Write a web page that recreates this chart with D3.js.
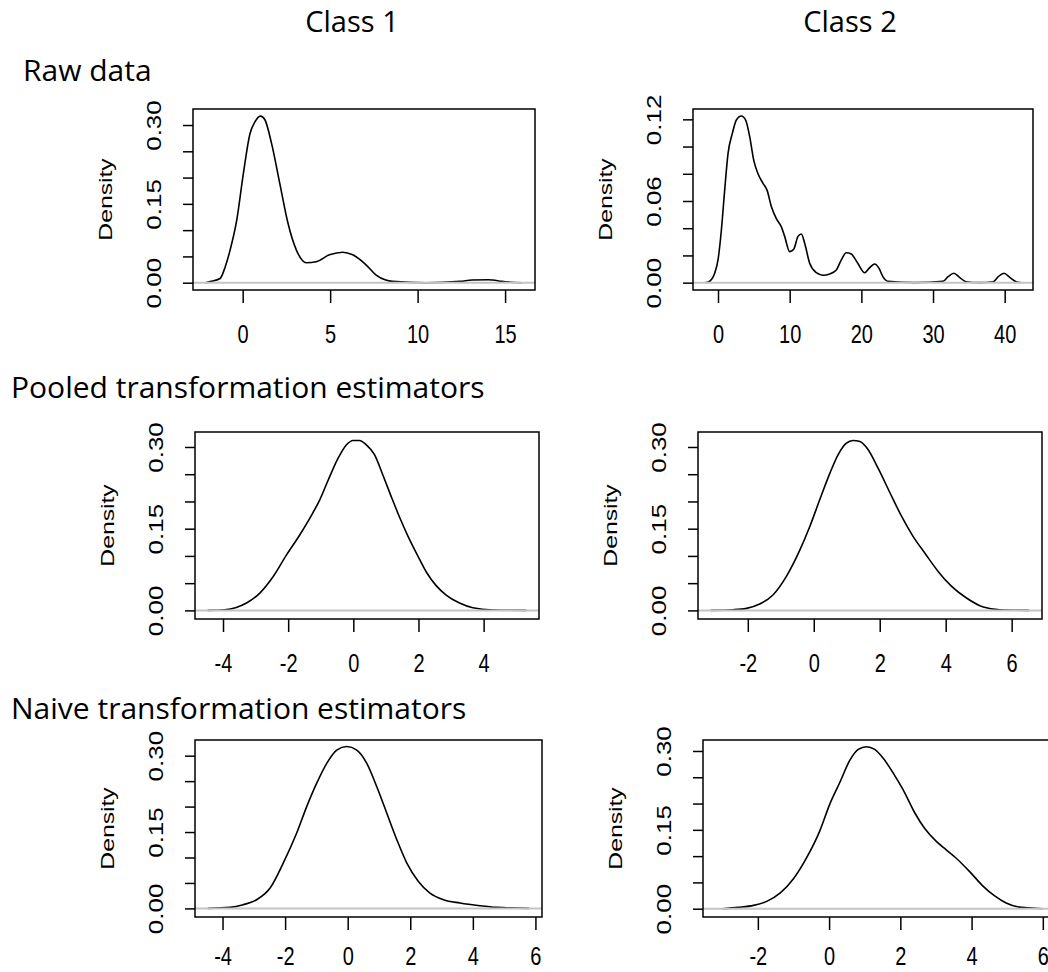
<!DOCTYPE html>
<html>
<head>
<meta charset="utf-8">
<script src="https://cdn.jsdelivr.net/npm/d3@7"></script>
<style>
  body { margin: 0; background: #fff; overflow: hidden; }
  svg { display: block; }
</style>
</head>
<body>
<div id="main"></div>
<script>
// Curvas de densidad: [x, densidad]
var rawClass1 = [
  [-2.12, 0], [-1.86, 0.002], [-1.29, 0.008], [-1.0, 0.03], [-0.72, 0.062], [-0.34, 0.119],
  [0.04, 0.208], [0.42, 0.284], [0.70, 0.306], [1.02, 0.317], [1.27, 0.310], [1.65, 0.265],
  [2.12, 0.189], [2.59, 0.113], [3.07, 0.062], [3.64, 0.038], [4.2, 0.040], [4.96, 0.053],
  [5.72, 0.058], [6.29, 0.053], [7.05, 0.034], [7.61, 0.015], [8.18, 0.005], [8.56, 0.0025],
  [10.5, 0], [12.44, 0.0025], [13.1, 0.005], [14.05, 0.0057], [14.3, 0.005], [14.8, 0.0025],
  [15.97, 0]
];
var rawClass2 = [
  [-1.73, 0], [-1.26, 0.0007], [-0.47, 0.0069], [0, 0.0167], [0.47, 0.0387], [0.93, 0.068],
  [1.4, 0.095], [2.0, 0.1097], [2.56, 0.1195], [3.26, 0.1225], [3.86, 0.1195], [4.42, 0.1073],
  [4.98, 0.090], [5.58, 0.080], [6.28, 0.073], [6.84, 0.068], [7.44, 0.056], [8.14, 0.047],
  [8.84, 0.041], [9.3, 0.034], [10.0, 0.0228], [10.56, 0.0245], [11.16, 0.034], [11.63, 0.0358],
  [12.09, 0.029], [12.79, 0.0142], [13.72, 0.0073], [14.65, 0.0054], [15.58, 0.0064], [16.5, 0.0093],
  [17.2, 0.0167], [17.9, 0.022], [18.6, 0.021], [19.5, 0.0142], [20.47, 0.0073], [21.07, 0.0105],
  [21.86, 0.0137], [22.47, 0.0105], [23.0, 0.0044], [23.7, 0.001], [27.5, 0], [31.4, 0.001],
  [32.1, 0.0044], [32.9, 0.0069], [33.7, 0.0039], [34.6, 0.0007], [36.5, 0], [38.4, 0.0007],
  [39.1, 0.0044], [39.9, 0.0069], [40.7, 0.0039], [41.6, 0.0007], [42.2, 0]
];
var pooledClass1 = [
  [-4.47, 0], [-3.95, 0.0012], [-3.59, 0.0055], [-3.28, 0.0135], [-2.87, 0.0318], [-2.47, 0.0612],
  [-2.06, 0.101], [-1.65, 0.138], [-1.29, 0.174], [-1.03, 0.203], [-0.78, 0.238], [-0.47, 0.279],
  [-0.21, 0.304], [-0.01, 0.312], [0.19, 0.312], [0.40, 0.304], [0.65, 0.286], [0.91, 0.248],
  [1.17, 0.208], [1.42, 0.171], [1.68, 0.136], [1.98, 0.100], [2.24, 0.0705], [2.55, 0.045],
  [2.85, 0.028], [3.26, 0.0135], [3.67, 0.0048], [4.29, 0.0008], [5.31, 0]
];
var pooledClass2 = [
  [-3.12, 0], [-2.45, 0.0012], [-2.04, 0.0037], [-1.64, 0.0116], [-1.23, 0.0288], [-0.83, 0.0625],
  [-0.42, 0.111], [-0.12, 0.154], [0.18, 0.203], [0.49, 0.252], [0.74, 0.286], [0.99, 0.307],
  [1.19, 0.312], [1.40, 0.310], [1.65, 0.295], [1.95, 0.261], [2.31, 0.216], [2.66, 0.173],
  [3.01, 0.136], [3.37, 0.105], [3.77, 0.0716], [4.18, 0.044], [4.63, 0.0227], [5.14, 0.0061],
  [5.64, 0.0012], [6.53, 0]
];
var naiveClass1 = [
  [-4.47, 0], [-3.76, 0.002], [-3.34, 0.0072], [-2.91, 0.017], [-2.48, 0.040], [-2.06, 0.089],
  [-1.63, 0.148], [-1.31, 0.200], [-0.99, 0.246], [-0.67, 0.285], [-0.35, 0.311], [-0.03, 0.318],
  [0.29, 0.311], [0.61, 0.285], [0.93, 0.239], [1.25, 0.187], [1.57, 0.135], [1.89, 0.089],
  [2.26, 0.053], [2.63, 0.030], [3.06, 0.017], [3.59, 0.0105], [4.23, 0.0052], [4.77, 0.002],
  [5.80, 0]
];
var naiveClass2 = [
  [-3.0, 0], [-2.54, 0.0025], [-2.12, 0.0063], [-1.75, 0.0139], [-1.37, 0.030], [-1.0, 0.057],
  [-0.63, 0.097], [-0.26, 0.148], [0.02, 0.199], [0.30, 0.240], [0.58, 0.282], [0.82, 0.303],
  [1.05, 0.308], [1.28, 0.303], [1.52, 0.286], [1.80, 0.258], [2.08, 0.226], [2.40, 0.183],
  [2.68, 0.153], [3.01, 0.128], [3.29, 0.112], [3.57, 0.096], [3.94, 0.071], [4.32, 0.043],
  [4.64, 0.0247], [4.97, 0.0108], [5.34, 0.003], [5.58, 0.0019], [6.0, 0]
];

// Marcas de los ejes
var densityTicks = [0, 0.05, 0.10, 0.15, 0.20, 0.25, 0.30];
var densityLabels = [0, 0.15, 0.30];
var rawClass2DensityTicks = [0, 0.02, 0.04, 0.06, 0.08, 0.10, 0.12];
var rawClass2DensityLabels = [0, 0.06, 0.12];
var rawClass1XTicks = [0, 5, 10, 15];
var rawClass2XTicks = [0, 10, 20, 30, 40];
var pooledClass1XTicks = [-4, -2, 0, 2, 4];
var pooledClass2XTicks = [-2, 0, 2, 4, 6];
var naiveClass1XTicks = [-4, -2, 0, 2, 4, 6];
var naiveClass2XTicks = [-2, 0, 2, 4, 6];

// Límites de los ejes (como en R, rango + 4%)
var rawClass1XLim = [-2.84, 16.71], rawClass1YLim = [-0.0139, 0.3305];
var rawClass2XLim = [-3.49, 43.95], rawClass2YLim = [-0.0054, 0.1276];
var pooledClass1XLim = [-4.86, 5.70], pooledClass1YLim = [-0.0158, 0.3275];
var pooledClass2XLim = [-3.51, 6.92], pooledClass2YLim = [-0.0158, 0.3275];
var naiveClass1XLim = [-4.88, 6.21], naiveClass1YLim = [-0.0169, 0.3308];
var naiveClass2XLim = [-3.54, 6.37], naiveClass2YLim = [-0.0158, 0.3209];

var columnTitles = ["Class 1", "Class 2"];
var rowTitles = ["Raw data", "Pooled transformation estimators", "Naive transformation estimators"];

var totalWidth = 1048;
var totalHeight = 972;
var stretch = 1.3;  // el texto de R está estirado en vertical
var axisFont = "'Liberation Sans', Arial, sans-serif";

var panels = [
  { data: rawClass1, xLim: rawClass1XLim, yLim: rawClass1YLim, xTicks: rawClass1XTicks,
    yTicks: densityTicks, yLabels: densityLabels, box: { l: 193, r: 535, t: 109, b: 290 }, labelOff: 53 },
  { data: rawClass2, xLim: rawClass2XLim, yLim: rawClass2YLim, xTicks: rawClass2XTicks,
    yTicks: rawClass2DensityTicks, yLabels: rawClass2DensityLabels, box: { l: 693, r: 1033, t: 109, b: 290 }, labelOff: 53 },
  { data: pooledClass1, xLim: pooledClass1XLim, yLim: pooledClass1YLim, xTicks: pooledClass1XTicks,
    yTicks: densityTicks, yLabels: densityLabels, box: { l: 195, r: 539, t: 432, b: 619 }, labelOff: 53 },
  { data: pooledClass2, xLim: pooledClass2XLim, yLim: pooledClass2YLim, xTicks: pooledClass2XTicks,
    yTicks: densityTicks, yLabels: densityLabels, box: { l: 698, r: 1042, t: 432, b: 619 }, labelOff: 53 },
  { data: naiveClass1, xLim: naiveClass1XLim, yLim: naiveClass1YLim, xTicks: naiveClass1XTicks,
    yTicks: densityTicks, yLabels: densityLabels, box: { l: 195, r: 542, t: 740, b: 917 }, labelOff: 48 },
  { data: naiveClass2, xLim: naiveClass2XLim, yLim: naiveClass2YLim, xTicks: naiveClass2XTicks,
    yTicks: densityTicks, yLabels: densityLabels, box: { l: 703, r: 1056, t: 740, b: 917 }, labelOff: 48 }
];

var svg = d3.select("#main").append("svg")
  .attr("width", totalWidth)
  .attr("height", totalHeight)
  .attr("style", "background-color: #fff;");

function dibujarPanel(p) {
  var x = d3.scaleLinear().domain(p.xLim).range([p.box.l, p.box.r]);
  var y = d3.scaleLinear().domain(p.yLim).range([p.box.b, p.box.t]);
  var g = svg.append("g");

  g.append("path")
    .datum(p.data)
    .attr("d", d3.line().x(function(d) { return x(d[0]); }).y(function(d) { return y(d[1]); })
      .curve(d3.curveMonotoneX))
    .attr("fill", "none")
    .attr("stroke", "#000")
    .attr("stroke-width", 1.6);

  // línea del cero en gris (encima de la curva, como en R)
  g.append("line")
    .attr("x1", p.box.l).attr("x2", p.box.r)
    .attr("y1", y(0)).attr("y2", y(0))
    .attr("stroke", "#c4c4c4")
    .attr("stroke-width", 2);

  g.append("rect")
    .attr("x", p.box.l).attr("y", p.box.t)
    .attr("width", p.box.r - p.box.l).attr("height", p.box.b - p.box.t)
    .attr("fill", "none")
    .attr("stroke", "#000")
    .attr("stroke-width", 1.5);

  var fmtX = function(d) { return String(d); };
  var xa = g.append("g")
    .attr("transform", "translate(0," + p.box.b + ")")
    .call(d3.axisBottom(x).tickValues(p.xTicks).tickSize(13).tickFormat(fmtX));
  xa.select(".domain").remove();
  xa.selectAll("line").attr("stroke", "#000").attr("stroke-width", 1.5);
  xa.selectAll("text")
    .attr("y", null).attr("dy", null)
    .attr("transform", "translate(0," + p.labelOff + ") scale(1," + stretch + ")")
    .attr("fill", "#000")
    .style("font-family", axisFont)
    .style("font-size", "20px");

  var labelSet = p.yLabels.map(function(v) { return v.toFixed(2); });
  var ya = g.append("g")
    .attr("transform", "translate(" + p.box.l + ",0)")
    .call(d3.axisLeft(y).tickValues(p.yTicks).tickSize(10).tickFormat(function(d) {
      var s = d.toFixed(2);
      return labelSet.indexOf(s) >= 0 ? s : "";
    }));
  ya.select(".domain").remove();
  ya.selectAll("line").attr("stroke", "#000").attr("stroke-width", 1.5);
  ya.selectAll("text")
    .attr("x", null).attr("dy", "0.35em")
    .attr("text-anchor", "middle")
    .attr("transform", "translate(-39,0) rotate(-90) scale(" + stretch + ",1)")
    .attr("fill", "#000")
    .style("font-family", axisFont)
    .style("font-size", "20px");

  g.append("text")
    .attr("transform", "translate(" + (p.box.l - 88) + "," + ((p.box.t + p.box.b) / 2) + ") rotate(-90) scale(" + stretch + ",1)")
    .attr("dy", "0.35em")
    .attr("text-anchor", "middle")
    .attr("fill", "#000")
    .style("font-family", axisFont)
    .style("font-size", "19px")
    .text("Density");
}

panels.forEach(dibujarPanel);

// Títulos de columnas y filas
var colCenters = [352, 850];
svg.selectAll(".col-title").data(columnTitles).enter().append("text")
  .attr("class", "col-title")
  .attr("x", function(d, i) { return colCenters[i]; })
  .attr("y", 32)
  .attr("text-anchor", "middle")
  .style("font-family", "'Open Sans', 'Noto Sans', sans-serif")
  .style("font-size", "29px")
  .text(function(d) { return d; });

var rowX = [23, 11, 11];
var rowY = [81, 398, 719];
svg.selectAll(".row-title").data(rowTitles).enter().append("text")
  .attr("class", "row-title")
  .attr("x", function(d, i) { return rowX[i]; })
  .attr("y", function(d, i) { return rowY[i]; })
  .style("font-family", "'Open Sans', 'Noto Sans', sans-serif")
  .style("font-size", "30px")
  .text(function(d) { return d; });
</script>
</body>
</html>
